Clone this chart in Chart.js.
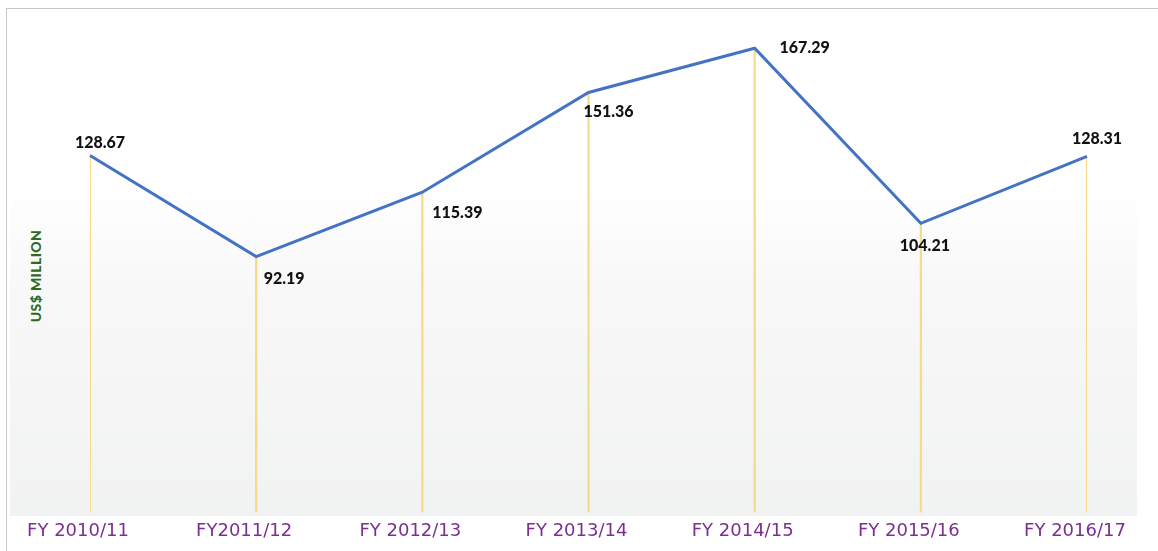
<!DOCTYPE html>
<html>
<head>
<meta charset="utf-8">
<script src="https://cdn.jsdelivr.net/npm/chart.js@4"></script>
<style>
  body { margin: 0; background: #fff; }
  #wrap { position: relative; width: 1158px; height: 551px; overflow: hidden; }
  #frame { position: absolute; left: 6px; top: 8px; width: 1200px; height: 600px;
           border-left: 1px solid #c8c8c8; border-top: 1px solid #c8c8c8; }
  #plotBg { position: absolute; left: 10px; top: 12px; width: 1127px; height: 504px;
            background: linear-gradient(to bottom, #ffffff 0%, #ffffff 34%, #f8f8f8 55%, #f1f2f2 100%); }
  #ytitle { position: absolute; left: 35px; top: 276px; transform: translate(-50%, -50%) rotate(-90deg);
            font: 900 14px Lato, sans-serif; color: #2f6a1e; white-space: nowrap; letter-spacing: 0.4px; }
  canvas { position: absolute; left: 0; top: 0; }
</style>
</head>
<body>
<div id="wrap">
  <div id="frame"></div>
  <div id="plotBg"></div>
  <div id="ytitle">US$ MILLION</div>
  <canvas id="chart" width="1158" height="551"></canvas>
</div>
<script>
// fiscal years and values (US$ million)
const years = ['FY 2010/11', 'FY2011/12', 'FY 2012/13', 'FY 2013/14', 'FY 2014/15', 'FY 2015/16', 'FY 2016/17'];
const values = [128.67, 92.19, 115.39, 151.36, 167.29, 104.21, 128.31];
const yMin = 0;
const yMax = 180;

// value labels, placed next to each point
const valueLabels = {
  id: 'valueLabels',
  afterDatasetsDraw(chart, args, opts) {
    const meta = chart.getDatasetMeta(0);
    const ctx = chart.ctx;
    ctx.save();
    ctx.font = '900 16px Lato, sans-serif';
    ctx.fillStyle = '#111';
    ctx.textAlign = 'center';
    ctx.textBaseline = 'middle';
    meta.data.forEach((pt, i) => {
      ctx.fillText(values[i].toFixed(2), pt.x + opts.dx[i], pt.y + opts.dy[i]);
    });
    ctx.restore();
  }
};

new Chart(document.getElementById('chart'), {
  data: {
    labels: years,
    datasets: [
      {
        type: 'line',
        data: values,
        borderColor: '#4472c4',
        borderWidth: 3,
        pointRadius: 0,
        tension: 0,
        order: 0
      },
      {
        // thin drop lines from each point to the baseline
        type: 'bar',
        data: values,
        backgroundColor: '#f7d98c',
        barThickness: 1.5,
        order: 1
      }
    ]
  },
  options: {
    responsive: false,
    animation: false,
    layout: { padding: { left: 90, right: 71, top: 13, bottom: 1 } },
    plugins: {
      legend: { display: false },
      tooltip: { enabled: false },
      valueLabels: {
        dx: [10, 28, 35, 20, 50, 4, 10],
        dy: [-13, 22, 21, 19, 0, 23, -18]
      }
    },
    scales: {
      x: {
        offset: false,
        grid: { display: false, drawTicks: false },
        border: { display: false },
        ticks: {
          padding: 8,
          labelOffset: -12,
          maxRotation: 0,
          autoSkip: false,
          color: '#7b2f91',
          font: { family: 'DejaVu Sans', size: 18 }
        }
      },
      y: {
        display: false,
        min: yMin,
        max: yMax
      }
    }
  },
  plugins: [valueLabels]
});
</script>
</body>
</html>
